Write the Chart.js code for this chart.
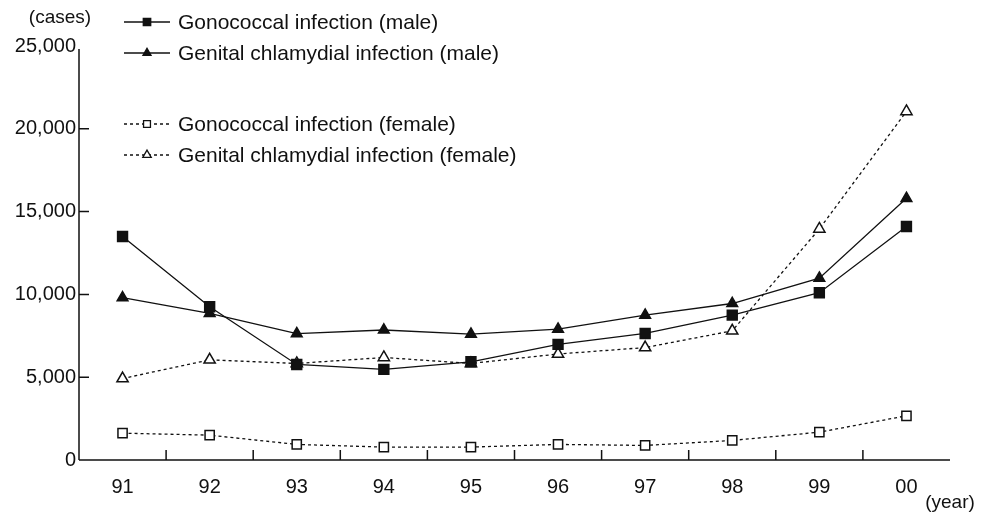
<!DOCTYPE html>
<html>
<head>
<meta charset="utf-8">
<script src="https://cdn.jsdelivr.net/npm/chart.js@4.4.1/dist/chart.umd.min.js"></script>
<style>
  html, body { margin: 0; padding: 0; background: #fff; }
  #wrap { width: 981px; height: 518px; position: relative; }
</style>
</head>
<body>
<div id="wrap"><canvas id="chart"></canvas></div>
<script>
// --- data ---
const years = ['91', '92', '93', '94', '95', '96', '97', '98', '99', '00'];
const gonoMale = [13500, 9250, 5770, 5470, 5930, 6980, 7640, 8750, 10100, 14100];
const chlamMale = [9800, 8850, 7630, 7850, 7600, 7900, 8750, 9450, 10980, 15800];
const gonoFemale = [1620, 1500, 940, 780, 780, 940, 880, 1180, 1680, 2670];
const chlamFemale = [4920, 6050, 5830, 6190, 5830, 6400, 6790, 7800, 13950, 21050];
const yTicks = [0, 5000, 10000, 15000, 20000, 25000];
const seriesNames = [
    'Gonococcal infection (male)',
    'Genital chlamydial infection (male)',
    'Gonococcal infection (female)',
    'Genital chlamydial infection (female)'
];

const INK = '#111';
const FONT = '"Liberation Sans", Arial, sans-serif';
const DOTS = [3, 3];

function series(label, data, style, filled, dashed) {
    return {
        label: label,
        data: data,
        borderColor: INK,
        borderWidth: 1.3,
        borderDash: dashed ? DOTS : [],
        pointStyle: style,
        pointRadius: style === 'rect' ? (filled ? 7 : 6.5) : (filled ? 6.2 : 6.5),
        pointBackgroundColor: filled ? INK : '#fff',
        pointBorderColor: INK,
        pointBorderWidth: 1.5,
        tension: 0,
        fill: false
    };
}

// axes, tick marks, legend and unit labels
const decorations = {
    id: 'decorations',
    afterDraw(chart) {
        const ctx = chart.ctx;
        const x = chart.scales.x;
        const y = chart.scales.y;
        const area = chart.chartArea;
        ctx.save();
        ctx.strokeStyle = INK;
        ctx.lineWidth = 1.5;
        ctx.setLineDash([]);

        // y axis + inward ticks
        const yTop = y.getPixelForValue(yTicks[yTicks.length - 1]) + 3;
        ctx.beginPath();
        ctx.moveTo(area.left, yTop);
        ctx.lineTo(area.left, area.bottom);
        yTicks.slice(1, -1).forEach(v => {
            const py = y.getPixelForValue(v);
            ctx.moveTo(area.left, py);
            ctx.lineTo(area.left + 10, py);
        });
        // x axis + upward ticks between categories
        ctx.moveTo(area.left, area.bottom);
        ctx.lineTo(area.right, area.bottom);
        for (let i = 0; i < years.length - 1; i++) {
            const px = (x.getPixelForValue(i) + x.getPixelForValue(i + 1)) / 2;
            ctx.moveTo(px, area.bottom);
            ctx.lineTo(px, area.bottom - 10);
        }
        ctx.stroke();

        // unit labels
        ctx.fillStyle = INK;
        ctx.font = '19px ' + FONT;
        ctx.textAlign = 'center';
        ctx.textBaseline = 'middle';
        ctx.fillText('(cases)', 60, 18);
        ctx.fillText('(year)', 950, 503);

        // legend
        const rows = [22, 53, 124, 155];
        ctx.font = '21px ' + FONT;
        ctx.textAlign = 'left';
        chart.data.datasets.forEach((ds, i) => {
            const ly = rows[i];
            ctx.lineWidth = 1.3;
            ctx.setLineDash(ds.borderDash);
            ctx.beginPath();
            ctx.moveTo(124, ly);
            ctx.lineTo(170, ly);
            ctx.stroke();
            ctx.setLineDash([]);
            const cx = 147;
            const r = ds.pointRadius * 0.75;
            ctx.beginPath();
            if (ds.pointStyle === 'rect') {
                const s = r * Math.SQRT1_2;
                ctx.rect(cx - s, ly - s, 2 * s, 2 * s);
            } else {
                ctx.moveTo(cx, ly - r);
                ctx.lineTo(cx + r * 0.866, ly + r / 2);
                ctx.lineTo(cx - r * 0.866, ly + r / 2);
                ctx.closePath();
            }
            ctx.fillStyle = ds.pointBackgroundColor;
            ctx.fill();
            ctx.stroke();
            ctx.fillStyle = INK;
            ctx.fillText(ds.label, 178, ly + 1);
        });
        ctx.restore();
    }
};

new Chart(document.getElementById('chart'), {
    type: 'line',
    data: {
        labels: years,
        datasets: [
            series(seriesNames[0], gonoMale, 'rect', true, false),
            series(seriesNames[1], chlamMale, 'triangle', true, false),
            series(seriesNames[2], gonoFemale, 'rect', false, true),
            series(seriesNames[3], chlamFemale, 'triangle', false, true)
        ]
    },
    options: {
        responsive: true,
        maintainAspectRatio: false,
        animation: false,
        layout: { padding: { top: 46, right: 31, left: 0, bottom: 0 } },
        plugins: {
            legend: { display: false },
            tooltip: { enabled: false }
        },
        scales: {
            x: {
                type: 'category',
                offset: true,
                grid: { display: false, drawTicks: false },
                border: { display: false },
                ticks: { color: INK, font: { family: FONT, size: 20 }, padding: 15, maxRotation: 0 },
                afterFit(scale) { scale.height = 58; }
            },
            y: {
                min: 0,
                max: 25000,
                grid: { display: false, drawTicks: false },
                border: { display: false },
                afterBuildTicks(scale) { scale.ticks = yTicks.map(v => ({ value: v })); },
                ticks: {
                    color: INK,
                    font: { family: FONT, size: 20 },
                    padding: 3,
                    callback: v => v.toLocaleString('en-US')
                },
                afterFit(scale) { scale.width = 79; }
            }
        }
    },
    plugins: [decorations]
});
</script>
</body>
</html>
